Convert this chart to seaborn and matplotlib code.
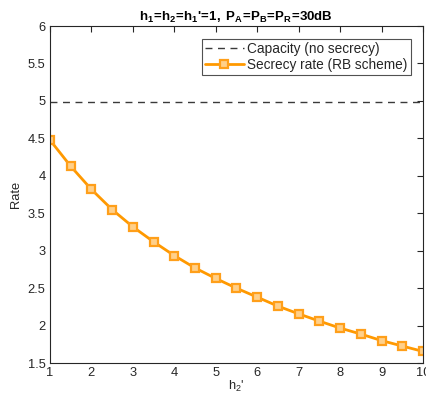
import matplotlib
matplotlib.use("Agg")
import matplotlib.pyplot as plt
import seaborn as sns
import pandas as pd
import numpy as np

# data
h2p = [1, 1.5, 2, 2.5, 3, 3.5, 4, 4.5, 5, 5.5, 6, 6.5, 7, 7.5, 8, 8.5, 9, 9.5, 10]
secrecy_rate = [4.48, 4.13, 3.82, 3.55, 3.32, 3.12, 2.935, 2.77, 2.63, 2.50,
                2.38, 2.26, 2.157, 2.06, 1.967, 1.887, 1.80, 1.727, 1.655]
capacity = 4.98
x_ticks = [1, 2, 3, 4, 5, 6, 7, 8, 9, 10]
y_ticks = [1.5, 2, 2.5, 3, 3.5, 4, 4.5, 5, 5.5, 6]

sns.set_style("white")
plt.rcParams['font.family'] = ['Liberation Sans', 'DejaVu Sans']
plt.rcParams['mathtext.fontset'] = 'custom'
plt.rcParams['mathtext.rm'] = 'Liberation Sans'
plt.rcParams['mathtext.it'] = 'Liberation Sans'
plt.rcParams['mathtext.bf'] = 'Liberation Sans:bold'

fig = plt.figure(figsize=(4.26, 4.07), dpi=100)
ax = fig.add_axes([0.117, 0.108, 0.876, 0.828])

df = pd.DataFrame({"h2p": h2p, "rate": secrecy_rate,
                   "cap": [capacity] * len(h2p)})

sns.lineplot(data=df, x="h2p", y="cap", ax=ax, color="#3a3a3a",
             linestyle=(0, (5, 4)), linewidth=1.0,
             label="Capacity (no secrecy)")
sns.lineplot(data=df, x="h2p", y="rate", ax=ax, color="#FF9900",
             linewidth=2.0, marker="s", markersize=5.5,
             markerfacecolor="#FFD08A", markeredgecolor="#FF9F1A",
             markeredgewidth=1.6, label="Secrecy rate (RB scheme)")

ax.set_xlim(1, 10)
ax.set_ylim(1.5, 6)
ax.set_xticks(x_ticks)
ax.set_yticks(y_ticks)
ax.set_xticklabels([str(v) for v in x_ticks])
ax.set_yticklabels([f"{v:g}" for v in y_ticks])
ax.tick_params(direction="in", top=True, right=True, length=4,
               width=0.8, labelsize=9.3, colors="#262626", pad=3)
for s in ax.spines.values():
    s.set_color("#262626")
    s.set_linewidth(0.8)

ax.set_xlabel("h$_2$'", fontsize=9.3, color="#262626", labelpad=0)
ax.set_ylabel("Rate", fontsize=9.3, color="#262626", labelpad=4)
ax.set_title(r"$\mathbf{h_1\!=\!h_2\!=\!h_1}$'$\mathbf{\!=\!1,\ P_A\!=\!P_B\!=\!P_R\!=\!30dB}$",
             fontsize=9.5, fontweight="bold", color="#000000", pad=4)

leg = ax.legend(loc="upper right", fontsize=9.8, frameon=True, fancybox=False,
                edgecolor="#262626", borderpad=0.25, handlelength=2.8,
                handletextpad=0.25, labelspacing=0.15, borderaxespad=0,
                bbox_to_anchor=(0.967, 0.963))
leg.get_frame().set_linewidth(0.8)

fig.savefig("out.png", dpi=100)
